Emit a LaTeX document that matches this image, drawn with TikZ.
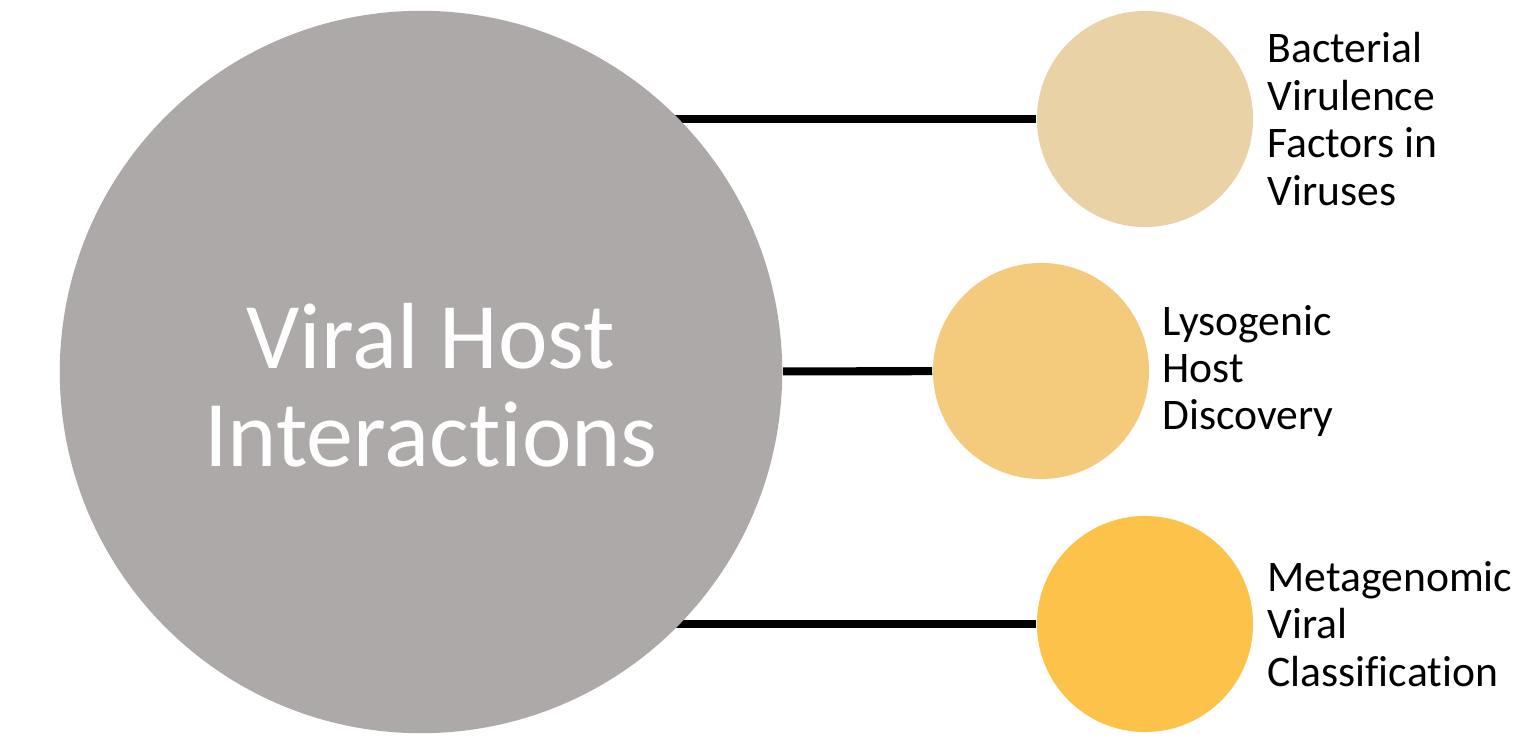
\documentclass[tikz,border=0pt]{standalone}
\usepackage{fontspec}
\setmainfont{Carlito}[Ligatures=NoCommon]
\usepackage{tikz}
\usetikzlibrary{positioning,backgrounds}
\definecolor{hubgray}{HTML}{ADA9A8}
\definecolor{tan}{HTML}{E8D2A6}
\definecolor{sand}{HTML}{F4CB7D}
\definecolor{amber}{HTML}{FDC24A}
\tikzset{
  bigdisc/.style={circle, fill=hubgray, minimum size=7.22cm, inner sep=0pt},
  hubtext/.style={text=white, align=center, inner sep=0pt,
    font=\fontsize{26.7}{27.9}\selectfont},
  leaf/.style={circle, minimum size=2.16cm, inner sep=0pt},
  link/.style={draw=black, line width=2.3pt},
  lab/.style={text=black, align=left, inner sep=0pt,
    font=\fontsize{12.4}{13.5}\selectfont}
}

\begin{document}
\begin{tikzpicture}[x=0.01cm, y=-0.01cm]
  \useasboundingbox (0,0) rectangle (1539,752);

  \node[bigdisc] (hub) at (421,372) {};
  \node[hubtext] (hubtitle) at ([shift={(10,13)}]hub.center) {Viral Host\\Interactions};

  \node[leaf, fill=tan]   (vir)  at (1145,119) {};
  \node[leaf, fill=sand]  (lys)  at (1041,371) {};
  \node[leaf, fill=amber] (meta) at (1145,624) {};

  \node[lab, right=0.13cm of vir]  (virlab)  {Bacterial\\Virulence\\Factors in\\Viruses};
  \node[lab, right=0.12cm of lys]  (lyslab)  {Lysogenic\\Host\\Discovery};
  \node[lab, right=0.13cm of meta] (metalab) {Metagenomic\\Viral\\Classification};

  % connectors sit behind the discs
  \begin{scope}[on background layer]
    \draw[link] (hub.center |- vir) -- (vir);
    \draw[link] (hub) -- (lys);
    \draw[link] (hub.center |- meta) -- (meta);
  \end{scope}
\end{tikzpicture}
\end{document}
